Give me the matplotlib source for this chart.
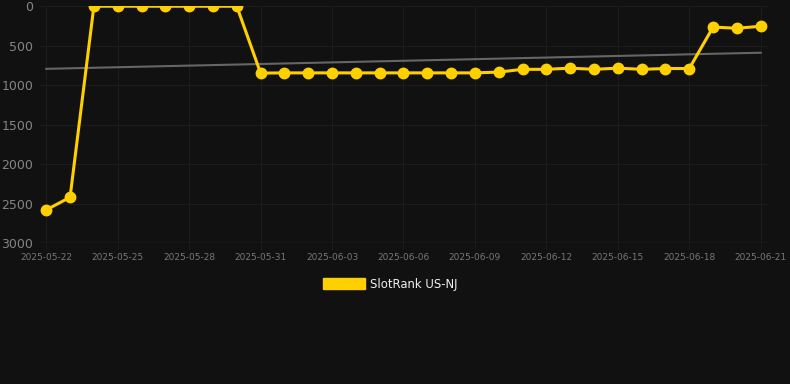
import numpy as np
import pandas as pd
import matplotlib
matplotlib.use("Agg")
import matplotlib.pyplot as plt
import matplotlib.dates as mdates
from matplotlib.patches import Patch

# daily rank, SlotRank US-NJ (lower is better, axis is inverted)
dates = pd.date_range("2025-05-22", "2025-06-21", freq="D")
rank = [2580, 2420,
        1, 1, 1, 1, 1, 1, 1,
        848, 845, 845, 845, 845, 845, 845, 845, 845, 845,
        835, 800, 800, 785, 800, 785, 800, 790, 790,
        265, 280, 255]
tick_dates = pd.date_range("2025-05-22", "2025-06-21", freq="3D")

bg = "#111111"
gold = "#FFD000"

fig = plt.figure(figsize=(7.9, 3.84), dpi=100, facecolor=bg)
ax = fig.add_axes([0.051, 0.367, 0.921, 0.617])
ax.set_facecolor(bg)

# linear trend over the series
xn = mdates.date2num(dates)
k, b = np.polyfit(xn, rank, 1)
ax.plot(dates, k * xn + b, color="#666666", lw=1.5, zorder=2)

ax.plot(dates, rank, color=gold, lw=2.2, marker="o", ms=7.5, zorder=3)

ax.set_ylim(3000, 0)
ax.set_yticks([0, 500, 1000, 1500, 2000, 2500, 3000])
ax.set_xlim(mdates.date2num(dates[0]) - 0.25, mdates.date2num(dates[-1]) + 0.3)
ax.set_xticks(tick_dates)
ax.xaxis.set_major_formatter(mdates.DateFormatter("%Y-%m-%d"))

ax.grid(True, color="#1c1c1c", lw=0.8)
for s in ax.spines.values():
    s.set_visible(False)
ax.axhline(3000, color="#2a2a2a", lw=1)
ax.tick_params(axis="y", length=0, labelsize=9, labelcolor="#858585", pad=5)
ax.tick_params(axis="x", length=4, color="#1c1c1c", labelsize=6.5,
               labelcolor="#777777", pad=3)

fig.legend(handles=[Patch(facecolor=gold, edgecolor=gold)],
           labels=["SlotRank US-NJ"], loc="center", bbox_to_anchor=(0.494, 0.26),
           frameon=False, fontsize=8.4, labelcolor="#f0f0f0",
           handlelength=3.6, handleheight=1.1, handletextpad=0.5)

fig.savefig("out.png", dpi=100, facecolor=bg)
